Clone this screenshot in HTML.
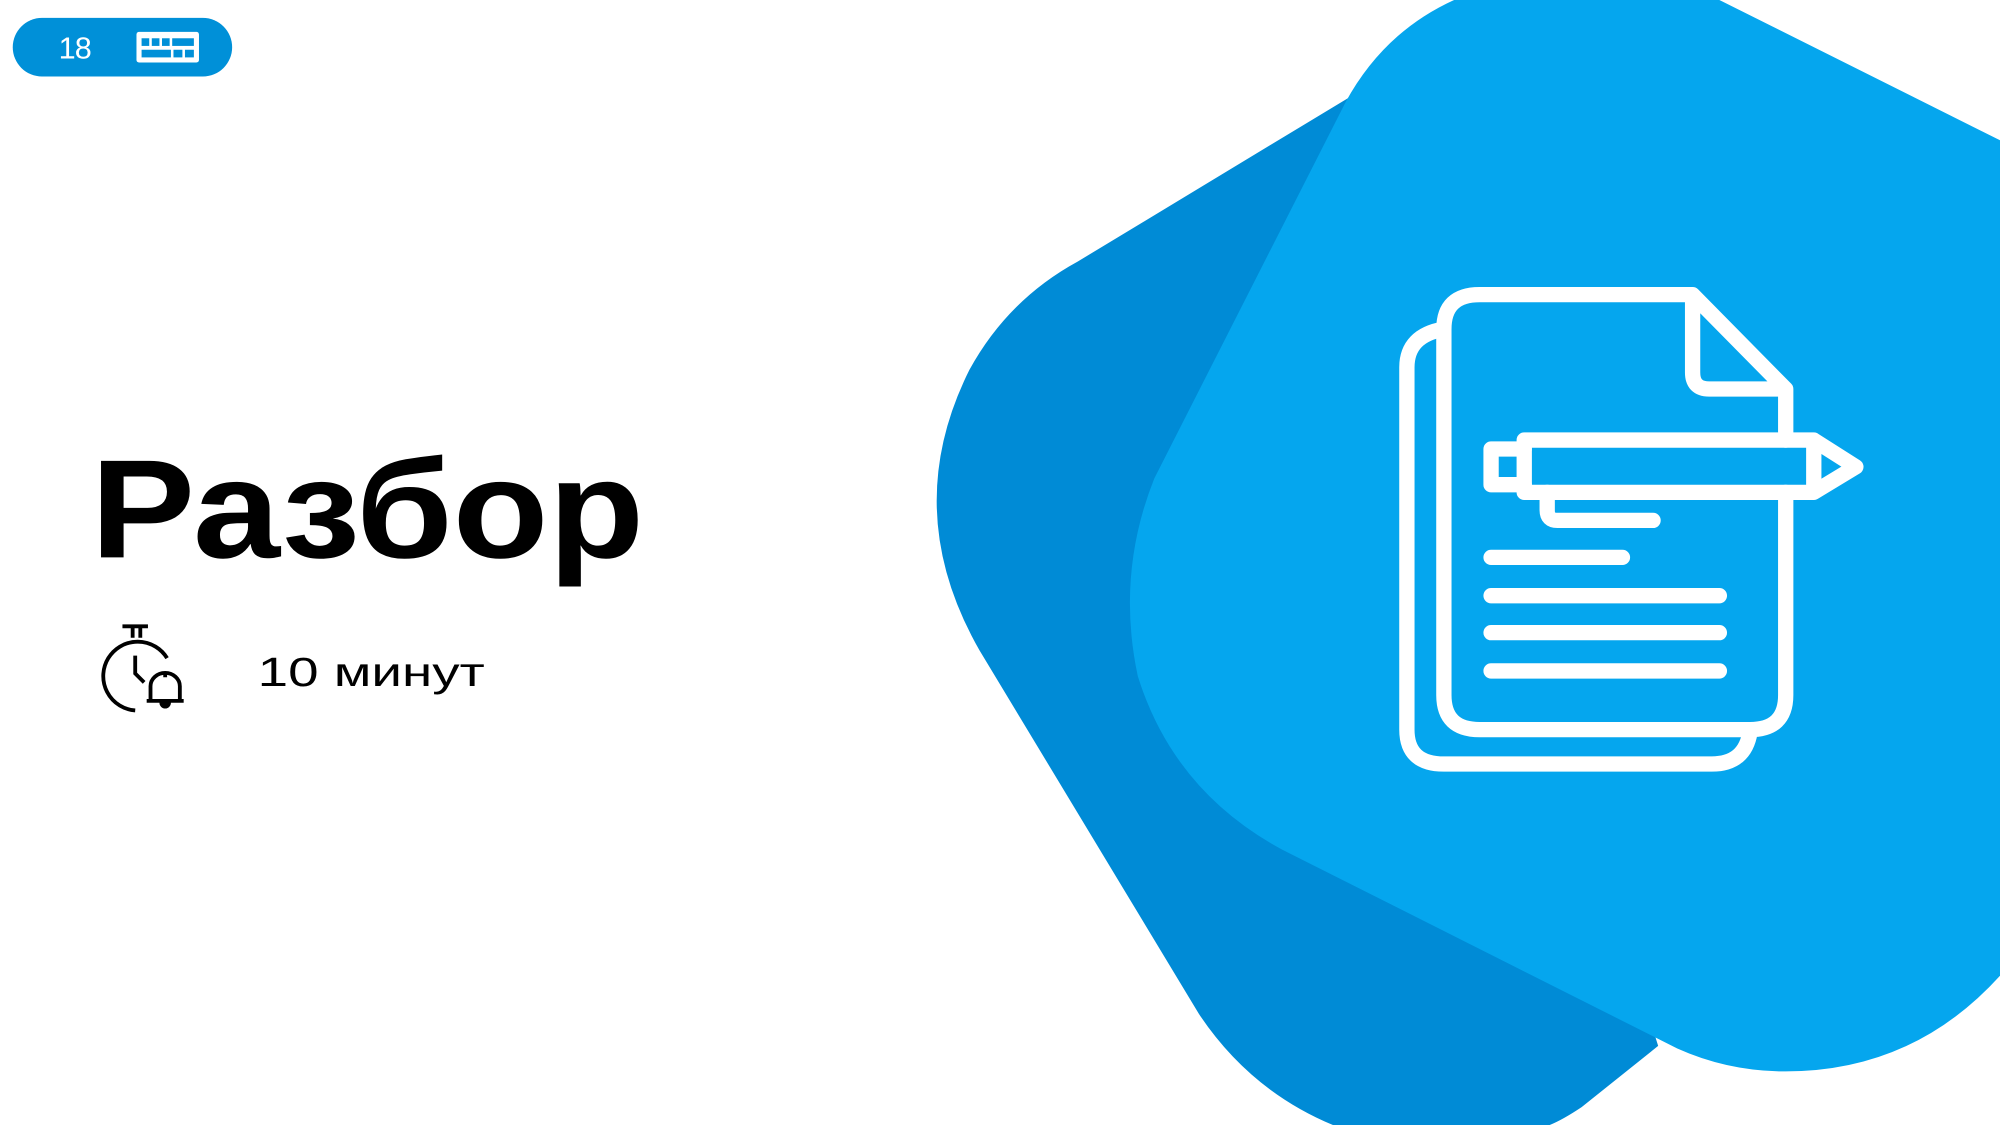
<!DOCTYPE html>
<html><head><meta charset="utf-8"><style>
html,body{margin:0;padding:0;background:#fff;}
svg{display:block}
</style></head><body>
<svg width="2000" height="1125" viewBox="0 0 1568 882" xmlns="http://www.w3.org/2000/svg">
<rect width="1568" height="882" fill="#fff"/>
<path d="M845,205 L1065,72 L1300,820 L1240,868 Q1225,878 1215,882 L1045,882 Q980,855 940,795 L768,510 Q705,400 760,290 Q790,235 845,205 Z" fill="#008BD6"/>
<path d="M1140,0 L1348,0 L1568,110 L1568,765 Q1500,840 1400,840 Q1355,840 1315,822 L1005,666 Q920,620 892,530 Q875,450 905,375 L1055,80 Q1085,25 1140,0 Z" fill="#05A6EE"/>
<rect x="10" y="14" width="172" height="46" rx="23" fill="#0090D8"/>
<text x="46" y="46" font-family="Liberation Sans, sans-serif" font-size="24" fill="#fff" textLength="26">18</text>
<rect x="107" y="25" width="49" height="24" rx="2" fill="#fff"/>
<g fill="#0090D8">
<rect x="111" y="30" width="6" height="6"/><rect x="119" y="30" width="6" height="6"/><rect x="127" y="30" width="6" height="6"/><rect x="135" y="30" width="17" height="6"/>
<rect x="111" y="39" width="23" height="6"/><rect x="136" y="39" width="7" height="6"/><rect x="145" y="39" width="7" height="6"/>
</g>
<text x="71" y="437" font-family="Liberation Sans, sans-serif" font-weight="bold" font-size="110" fill="#000" textLength="434" lengthAdjust="spacingAndGlyphs">Разбор</text>
<g fill="none" stroke="#000" stroke-width="3">
<path d="M106,557 A27,27 0 1 1 131,516"/>
<path d="M106,514 L106,528 L113,535"/>
<path d="M96,491 L116,491 M104,492 L104,500 M110,492 L110,500"/>
<path d="M118,548 L118,538 A11,10 0 0 1 141,538 L141,548"/>
</g>
<path d="M115,548 L144,548 L144,551 L115,551Z M125,551 A4,4 0 0 0 134,551Z M128,527 L131,527 L131,531 L128,531Z" fill="#000"/>
<text x="202" y="538" font-family="Liberation Sans, sans-serif" font-size="32" fill="#000" textLength="178" lengthAdjust="spacingAndGlyphs">10 минут</text>
<g fill="none" stroke="#fff" stroke-width="12" stroke-linejoin="round" stroke-linecap="round">
<path d="M1132,258 Q1103,263 1103,288 L1103,572 Q1103,599 1132,599 L1342,599 Q1368,599 1372,574"/>
<path d="M1327,231 L1160,231 Q1132,231 1132,258 L1132,545 Q1132,572 1160,572 L1372,572 Q1400,572 1400,545 L1400,386 M1400,345 L1400,305 L1327,231 L1327,292 Q1327,305 1340,305 L1400,305"/>
<path d="M1195,345 L1422,345 L1455,366 L1422,386 L1195,386 Z M1422,345 L1422,386"/>
<path d="M1195,352 L1169,352 L1169,380 L1195,380"/>
<path d="M1213,386 L1213,400 Q1213,408 1221,408 L1296,408"/>
<path d="M1169,437 L1272,437 M1169,467 L1348,467 M1169,496 L1348,496 M1169,526 L1348,526"/>
</g>
</svg>
</body></html>
